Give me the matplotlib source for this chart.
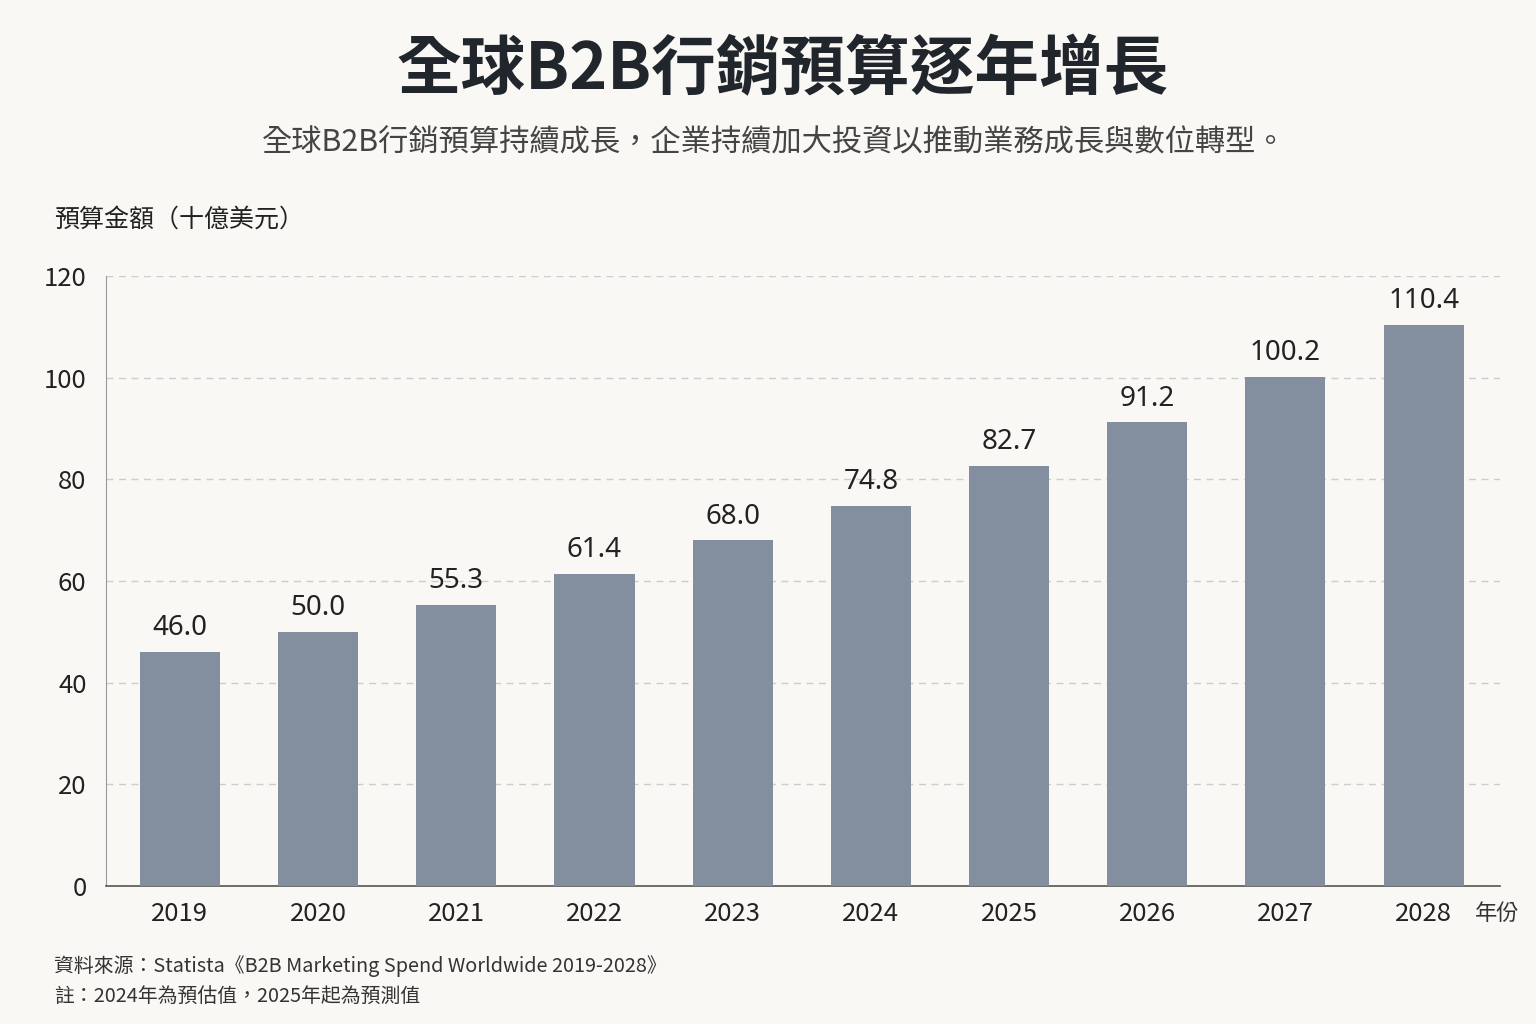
import numpy as np
import matplotlib.pyplot as plt

plt.rcParams['font.family'] = ['Noto Sans CJK TC', 'DejaVu Sans']

years = ['2019', '2020', '2021', '2022', '2023', '2024', '2025', '2026', '2027', '2028']
spend = [46.0, 50.0, 55.3, 61.4, 68.0, 74.8, 82.7, 91.2, 100.2, 110.4]
yticks = [0, 20, 40, 60, 80, 100, 120]

bg = '#f9f8f5'
bar_color = '#838f9e'

fig = plt.figure(figsize=(15.36, 10.24), dpi=100, facecolor=bg)
ax = fig.add_axes([106/1536, 1-886/1024, 1394/1536, 610/1024], facecolor=bg)

x = np.arange(len(years))
bars = ax.bar(x, spend, width=0.58, color=bar_color, zorder=3)

for xi, v in zip(x, spend):
    ax.annotate(f'{v:.1f}', (xi, v), xytext=(0, 7), textcoords='offset points',
                ha='center', va='bottom', fontsize=20, color='#222222',
                family=['Noto Sans', 'DejaVu Sans'])

ax.set_xlim(-0.535, 9.553)
ax.set_ylim(0, 120)
ax.set_yticks(yticks)
ax.set_xticks(x)
ax.set_xticklabels(years)
ax.tick_params(axis='both', length=0, labelsize=18.5, colors='#222222')
ax.tick_params(axis='x', pad=11)
ax.tick_params(axis='y', pad=14)
ax.grid(axis='y', linestyle=(0, (5, 4)), color='#cccccc', linewidth=1, zorder=0)

for s in ['top', 'right']:
    ax.spines[s].set_visible(False)
ax.spines['left'].set_color('#999999')
ax.spines['bottom'].set_color('#555555')
ax.spines['bottom'].set_linewidth(1.2)

fig.text(783/1536, 1-70/1024, '全球B2B行銷預算逐年增長', ha='center', va='center',
         fontsize=46.5, fontweight='bold', color='#20262b')
fig.text(774/1536, 1-142/1024, '全球B2B行銷預算持續成長，企業持續加大投資以推動業務成長與數位轉型。',
         ha='center', va='center', fontsize=21.8, color='#444444')
fig.text(54/1536, 1-220/1024, '預算金額（十億美元）', ha='left', va='center',
         fontsize=18, color='#222222')
fig.text(1475/1536, 1-913/1024, '年份', ha='left', va='center', fontsize=16, color='#333333')
fig.text(54/1536, 1-966/1024, '資料來源：Statista《B2B Marketing Spend Worldwide 2019-2028》',
         ha='left', va='center', fontsize=14.3, color='#333333')
fig.text(54/1536, 1-996/1024, '註：2024年為預估值，2025年起為預測值',
         ha='left', va='center', fontsize=14.3, color='#333333')

fig.savefig('out.png', dpi=100, facecolor=bg)
